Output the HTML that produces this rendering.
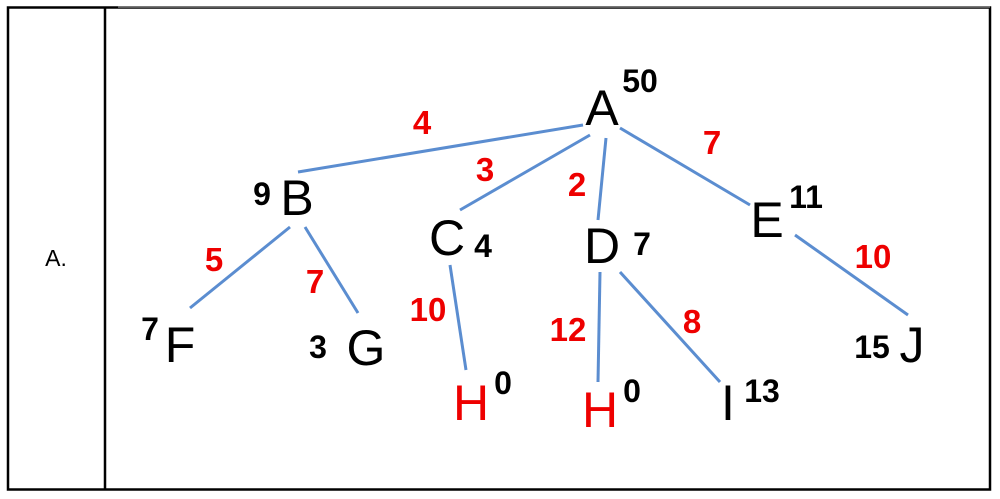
<!DOCTYPE html>
<html><head><meta charset="utf-8"><style>
html,body{margin:0;padding:0;background:#fff;}
svg{display:block;}
text{font-family:"Liberation Sans",sans-serif;}
</style></head><body>
<svg width="1000" height="499" viewBox="0 0 1000 499">
<rect x="8" y="7.5" width="982" height="482" fill="none" stroke="#000" stroke-width="2.5"/>
<line x1="105" y1="7" x2="105" y2="490" stroke="#000" stroke-width="2.5"/>
<line x1="118" y1="7" x2="990" y2="7" stroke="#777" stroke-width="1.5"/>
<text x="56" y="266" font-size="23" text-anchor="middle">A.</text>
<g id="edges"></g>
<g id="nodes"></g>
</svg>
<script>
const nodeNames=["A","B","C","D","E","F","G","H","H","I","J"];
const nodeX=[602,297,447,602,767,180,366,471,600,728,912];
const nodeY=[125,215,255,263,237,362,365,420,427,420,362];
const nodeColor=["#000","#000","#000","#000","#000","#000","#000","#e00","#e00","#000","#000"];
const heuristics=["50","9","4","7","11","7","3","0","0","13","15"];
const hX=[640,262,483,642,806,150,318,503,632,762,872];
const hY=[92,205,257,255,208,340,358,394,402,402,358];
const edgeFrom=[0,0,0,0,1,1,2,3,3,4];
const edgeTo=[1,2,3,4,5,6,7,8,9,10];
const edgeCost=["4","3","2","7","5","7","10","12","8","10"];
const eX1=[583,590,606,620,290,305,450,600,620,795];
const eY1=[125,135,138,128,227,227,265,272,272,235];
const eX2=[298,460,598,750,190,358,466,598,720,908];
const eY2=[172,210,220,205,308,313,370,382,382,315];
const lX=[422,485,577,712,214,315,428,568,692,873];
const lY=[134,181,196,154,271,293,321,341,333,268];
const NS="http://www.w3.org/2000/svg";
const eg=document.getElementById('edges'), ng=document.getElementById('nodes');
for(let i=0;i<edgeFrom.length;i++){
  const l=document.createElementNS(NS,'line');
  l.setAttribute('x1',eX1[i]);l.setAttribute('y1',eY1[i]);l.setAttribute('x2',eX2[i]);l.setAttribute('y2',eY2[i]);
  l.setAttribute('stroke','#5b8dd0');l.setAttribute('stroke-width','3');
  
  
  eg.appendChild(l);
  const t=document.createElementNS(NS,'text');
  t.setAttribute('x',lX[i]);t.setAttribute('y',lY[i]);t.setAttribute('text-anchor','middle');
  t.setAttribute('font-size','33');t.setAttribute('font-weight','bold');t.setAttribute('fill','#e00');
  t.textContent=edgeCost[i];
  
  
  eg.appendChild(t);
}
for(let i=0;i<nodeNames.length;i++){
  const t=document.createElementNS(NS,'text');
  t.setAttribute('x',nodeX[i]);t.setAttribute('y',nodeY[i]);t.setAttribute('text-anchor','middle');
  t.setAttribute('font-size','50');t.setAttribute('fill',nodeColor[i]);
  t.textContent=nodeNames[i];
  
  
  ng.appendChild(t);
  const h=document.createElementNS(NS,'text');
  h.setAttribute('x',hX[i]);h.setAttribute('y',hY[i]);h.setAttribute('text-anchor','middle');
  h.setAttribute('font-size','32');h.setAttribute('font-weight','bold');h.setAttribute('fill','#000');
  h.textContent=heuristics[i];
  
  
  ng.appendChild(h);
}
</script>
</body></html>
